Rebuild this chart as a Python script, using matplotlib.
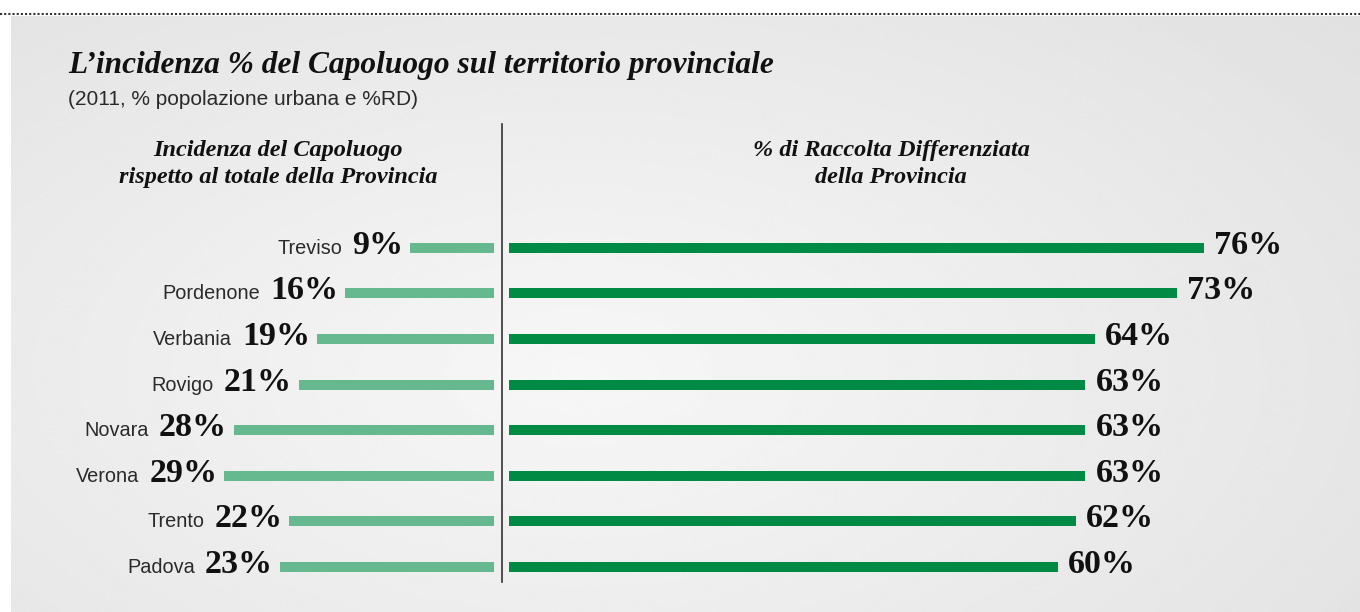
import numpy as np
import matplotlib
matplotlib.use('Agg')
import matplotlib.pyplot as plt
from matplotlib.lines import Line2D
from matplotlib import transforms

cities = ['Treviso', 'Pordenone', 'Verbania', 'Rovigo', 'Novara', 'Verona', 'Trento', 'Padova']
incidenza = [9, 16, 19, 21, 28, 29, 22, 23]
raccolta = [76, 73, 64, 63, 63, 63, 62, 60]

title = 'L\u2019incidenza % del Capoluogo sul territorio provinciale'
subtitle = '(2011, % popolazione urbana e %RD)'
head_left = 'Incidenza del Capoluogo\nrispetto al totale della Provincia'
head_right = '% di Raccolta Differenziata\ndella Provincia'

W, H = 1360, 612
fig = plt.figure(figsize=(13.6, 6.12), dpi=100)
fig.patch.set_facecolor('white')

def fx(px):
    return px / W

def fy(py):
    return 1 - py / H

SERIF = 'Liberation Serif'
SANS = 'Liberation Sans'

# background panel with soft gradient
bg = fig.add_axes([fx(11), 0, 1 - fx(11), fy(16)])
yy, xx = np.mgrid[0:1:300j, 0:1:600j]
d = np.sqrt(((xx - 0.42) / 0.75) ** 2 + ((yy - 0.6) / 0.9) ** 2)
g = np.clip(0.968 - 0.085 * d, 0, 1)
bg.imshow(g, cmap='gray', vmin=0, vmax=1, aspect='auto', extent=[0, 1, 0, 1],
          interpolation='bicubic')
bg.axis('off')

# dotted top rule
fig.add_artist(Line2D([0, 1], [fy(14), fy(14)], transform=fig.transFigure,
                      ls=(0, (1, 1)), lw=1.5, color='#333333'))

# titles
fig.text(fx(68), fy(73), title, fontfamily=SERIF, fontweight='bold', fontstyle='italic',
         fontsize=22.6, color='#111111', va='baseline', ha='left')
fig.text(fx(68), fy(105), subtitle, fontfamily=SANS, fontsize=15, color='#2a2a2a',
         va='baseline', ha='left')
fig.text(fx(278), fy(164), head_left, fontfamily=SERIF, fontweight='bold', fontstyle='italic',
         fontsize=17.5, color='#111111', va='center', ha='center', linespacing=1.38)
fig.text(fx(891), fy(164), head_right, fontfamily=SERIF, fontweight='bold', fontstyle='italic',
         fontsize=17.5, color='#111111', va='center', ha='center', linespacing=1.38)

# divider
fig.add_artist(Line2D([fx(501.5), fx(501.5)], [fy(124), fy(582)], transform=fig.transFigure,
                      lw=1.2, color='#333333'))

row_h = 45.6
top = 247.7 - row_h / 2
bot = top + row_h * len(cities)

# left axes
lx0, lx1 = 30, 494
axL = fig.add_axes([fx(lx0), fy(bot), fx(lx1) - fx(lx0), fy(top) - fy(bot)])
axL.set_xlim((lx1 - lx0) / 9.3, 0)
axL.set_ylim(len(cities) - 0.5, -0.5)
axL.axis('off')
ypos = np.arange(len(cities))
axL.barh(ypos, incidenza, height=10 / row_h, color='#66b98f')

# right axes
rx0, rx1 = 509, 1355
axR = fig.add_axes([fx(rx0), fy(bot), fx(rx1) - fx(rx0), fy(top) - fy(bot)])
axR.set_xlim(0, (rx1 - rx0) / 9.15)
axR.set_ylim(len(cities) - 0.5, -0.5)
axR.axis('off')
axR.barh(ypos, raccolta, height=10 / row_h, color='#008a43')

offL = transforms.offset_copy(axL.transData, fig=fig, x=-7, y=-6, units='dots')
offR = transforms.offset_copy(axR.transData, fig=fig, x=10, y=-6, units='dots')

for i, (c, a, b) in enumerate(zip(cities, incidenza, raccolta)):
    t = axL.text(a, i, f'{a}%', transform=offL, ha='right', va='baseline',
                 fontfamily=SERIF, fontweight='bold', fontsize=24.5, color='#111111')
    axL.annotate(c, xy=(0, i), xycoords=(t, axL.transData), xytext=(-10, -6),
                 textcoords='offset pixels', ha='right', va='baseline',
                 fontfamily=SANS, fontsize=14.3, color='#2a2a2a')
    axR.text(b, i, f'{b}%', transform=offR, ha='left', va='baseline',
             fontfamily=SERIF, fontweight='bold', fontsize=24.5, color='#111111')

fig.savefig('out.png', dpi=100)
